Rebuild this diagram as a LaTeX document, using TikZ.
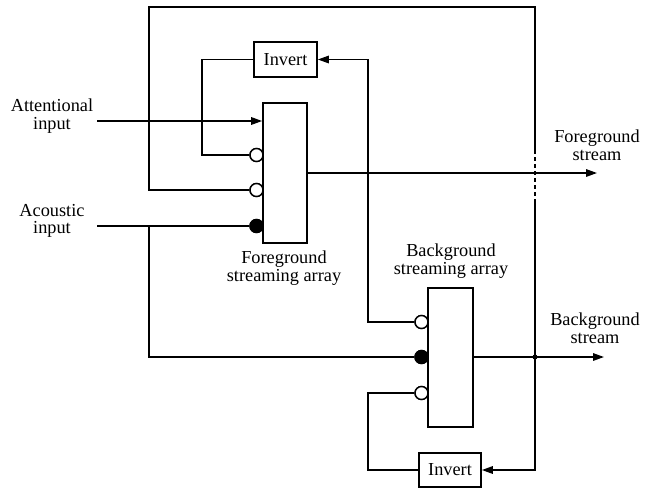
\documentclass[tikz,border=0pt]{standalone}
\usepackage{fontspec}
\setmainfont{Liberation Serif}
\usetikzlibrary{arrows.meta}
\begin{document}
\begin{tikzpicture}[x=1pt,y=-1pt,
 line width=1.6pt,
 arr/.style={-{Triangle[length=11pt,width=7.5pt]}},
 blk/.style={draw, rectangle, inner sep=0pt, line width=1.7pt},
 lbl/.style={align=center, inner sep=0pt, font=\fontsize{18.3}{17.5}\selectfont},
 opn/.style={draw, circle, fill=white, minimum size=13pt, inner sep=0pt, line width=1.4pt},
 fil/.style={draw, circle, fill=black, minimum size=13pt, inner sep=0pt, line width=1.4pt},
 jdot/.style={circle, fill=black, minimum size=5pt, inner sep=0pt}]
\useasboundingbox (0,0) rectangle (652,488);
% blocks
\node[blk, minimum width=44pt, minimum height=140pt] (fg) at (285,173) {};
\node[blk, minimum width=45pt, minimum height=139pt] (bg) at (450.5,357.5) {};
\node[blk, minimum width=63pt, minimum height=35pt, font=\fontsize{18.3}{17.5}\selectfont] (inv1) at (285.5,59.5) {Invert};
\node[blk, minimum width=62pt, minimum height=34pt, font=\fontsize{18.3}{17.5}\selectfont] (inv2) at (450,470) {Invert};
% labels
\node[lbl] (att) at (52,116) {Attentional\\input};
\node[lbl] (aco) at (52,221) {Acoustic\\input};
\node[lbl] (fgl) at (284,268) {Foreground\\streaming array};
\node[lbl] (bgl) at (451,261) {Background\\streaming array};
\node[lbl] (fgs) at (597,145) {Foreground\\stream};
\node[lbl] (bgs) at (595,328) {Background\\stream};
% coordinates
\coordinate (attin) at (97,121);
\coordinate (acoin) at (97,226);
\coordinate (fgout) at (597,173);
\coordinate (bgout) at (604,357);
\coordinate (tl) at (149,7);
\coordinate (tr) at (535,7);
\coordinate (dsa) at (535,150);
\coordinate (dsb) at (535,200);
\coordinate (jn) at (535,357);
\coordinate (br) at (535,470);
\coordinate (ab) at (149,226);
% input circles
\node[opn] (c1) at (256.5,155) {};
\node[opn] (c2) at (256.5,190) {};
\node[fil] (c3) at (256.5,226) {};
\node[opn] (d1) at (421.5,322) {};
\node[fil] (d2) at (421.5,357) {};
\node[opn] (d3) at (421.5,393) {};
% connectors
\draw[arr] (attin) -- (fg.west |- attin);
\draw (acoin) -- (c3.west);
\draw (ab) |- (d2.west);
\draw (inv1.west) -| (202,155) -- (c1.west);
\draw (c2.west) -| (tl) -- (tr) -- (dsa);
\draw[dash pattern=on 4pt off 3pt] (dsa) -- (dsb);
\draw (dsb) -- (jn);
\draw[arr] (jn) -- (br) -- (inv2.east);
\draw[arr] (fg.east |- fgout) -- (fgout);
\draw[arr] (bg.east |- bgout) -- (bgout);
\draw[arr] (d1.west) -| (368,59.5) -- (inv1.east);
\draw (inv2.west) -| (368,393) -- (d3.west);
\node[jdot] at (jn) {};
% redraw circles on top
\node[opn] at (c1) {};
\node[opn] at (c2) {};
\node[fil] at (c3) {};
\node[opn] at (d1) {};
\node[fil] at (d2) {};
\node[opn] at (d3) {};
\end{tikzpicture}
\end{document}
